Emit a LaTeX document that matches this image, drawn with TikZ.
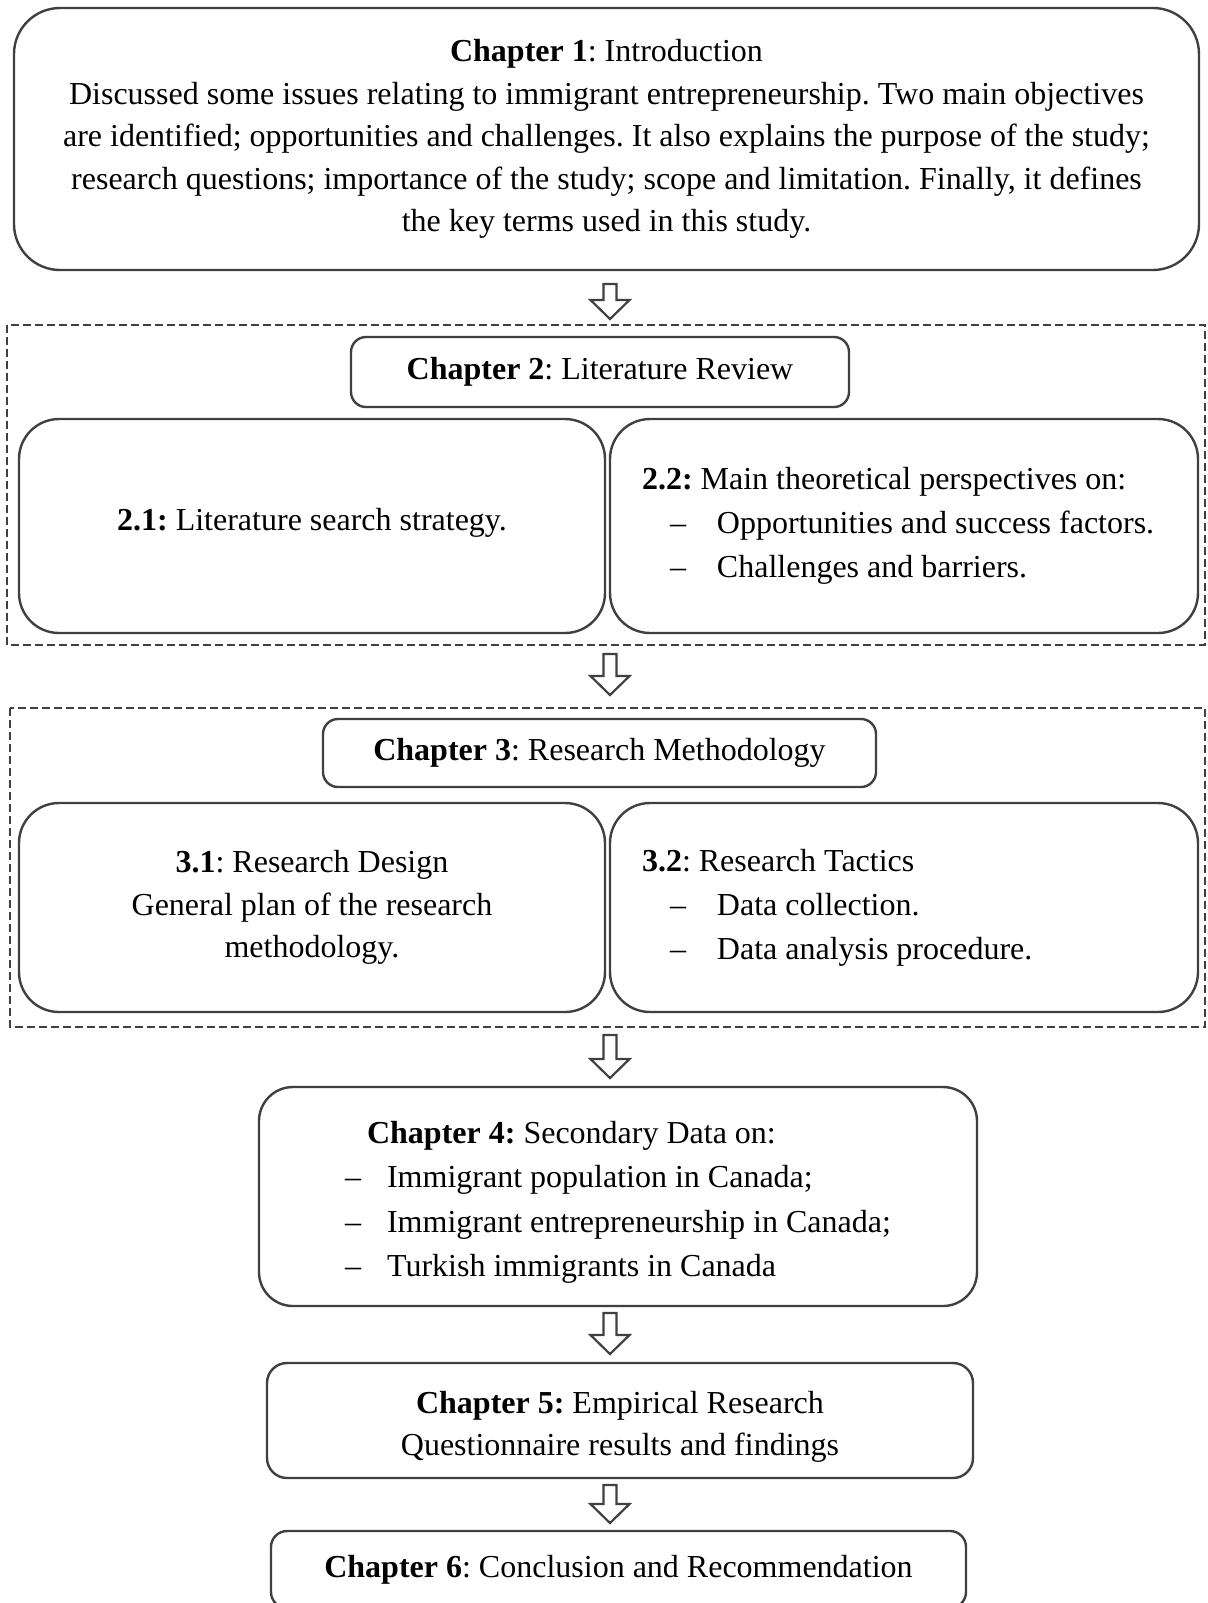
\documentclass[tikz,border=0pt]{standalone}
\usepackage{fontspec}
\setmainfont{Liberation Serif}
\usetikzlibrary{calc}
\definecolor{ln}{HTML}{404040}
\newcommand\diagfont{\fontsize{16}{21.25}\selectfont\frenchspacing}
\newcommand\listfont[1]{\fontsize{16}{#1}\selectfont\frenchspacing}
\newcommand\normsp{\spaceskip=0pt\xspaceskip=0pt\relax}
\newcommand\itm[1]{\hspace*{14pt}\makebox[23.5pt][l]{\textendash}#1}
\newcommand\itmb[1]{\makebox[21pt][l]{\textendash}#1}
\tikzset{
  box/.style={draw=ln, line width=1.2pt, rounded corners=#1, align=center,
    inner sep=0pt, font=\diagfont, text=black},
  dashbox/.style={draw=ln, line width=1pt, dash pattern=on 4pt off 2pt},
  blk/.style={draw=ln, line width=1.1pt, fill=white, line join=miter},
}
\newcommand\blockarrow[4]{% name, x, ytop, length
  \coordinate (#1) at (#2,#3);
  \draw[blk] (#1) ++(-6.5,0) -- ++(13,0) -- ++(0,#4-19) -- ++(13,0)
    -- ++(-19.5,19) -- ++(-19.5,-19) -- ++(13,0) -- cycle;}
\begin{document}
\begin{tikzpicture}[x=0.5pt,y=-0.5pt]
\useasboundingbox (0,0) rectangle (1207,1603);
\begin{scope}
\clip (0,0) rectangle (1207,1603);
% dashed groups
\draw[dashbox] (7,325) rectangle (1205,645);
\draw[dashbox] (10,708) rectangle (1205,1027);
% chapter 1
\node[box=23pt, minimum width=592.5pt, minimum height=131pt] (ch1) at (606.5,139)
 {\textbf{Chapter 1}: Introduction\\
  Discussed some issues relating to immigrant entrepreneurship. Two main objectives\\
  are identified; opportunities and challenges. It also explains the purpose of the study;\\
  research questions; importance of the study; scope and limitation. Finally, it defines\\
  the key terms used in this study.};
% chapter 2
\node[box=7.5pt, minimum width=249pt, minimum height=35pt] (ch2) at (600,372)
 {\textbf{Chapter 2}: Literature Review};
\node[box=20pt, minimum width=293pt, minimum height=107pt, text depth=7pt] (b21) at (312,526)
 {\textbf{2.1:} Literature search strategy.};
\node[box=20pt, minimum height=107pt, text width=262pt, inner xsep=16pt, align=left,
      font=\listfont{22pt}] (b22) at (904,526)
 {\normsp\textbf{2.2:} Main theoretical perspectives on:\\
  \itm{Opportunities and success factors.}\\
  \itm{Challenges and barriers.}};
% chapter 3
\node[box=7.5pt, minimum width=276.5pt, minimum height=34pt] (ch3) at (599.5,753)
 {\textbf{Chapter 3}: Research Methodology};
\node[box=20pt, minimum width=293pt, minimum height=104.5pt] (b31) at (312,907.5)
 {\textbf{3.1}: Research Design\\General plan of the research\\methodology.};
\node[box=20pt, minimum height=104.5pt, text width=262pt, inner xsep=16pt, align=left,
      font=\listfont{22pt}] (b32) at (904,907.5)
 {\normsp\textbf{3.2}: Research Tactics\\
  \itm{Data collection.}\\
  \itm{Data analysis procedure.}};
% chapter 4
\node[box=17pt, minimum width=359pt, minimum height=109.5pt, align=left,
      font=\listfont{22.2pt}] (ch4) at (618,1196.5)
 {\normsp\rule{0pt}{16.8pt}\hspace*{11pt}\textbf{Chapter 4:} Secondary Data on:\\
  \itmb{Immigrant population in Canada;}\\
  \itmb{Immigrant entrepreneurship in Canada;}\\
  \itmb{Turkish immigrants in Canada}};
% chapter 5
\node[box=10pt, minimum width=353pt, minimum height=57.5pt] (ch5) at (620,1420.5)
 {\rule{0pt}{17.6pt}\textbf{Chapter 5:} Empirical Research\\Questionnaire results and findings};
% chapter 6
\node[box=8pt, minimum width=347.5pt, minimum height=38.5pt] (ch6) at (618.5,1569.5)
 {\textbf{Chapter 6}: Conclusion and Recommendation};
% arrows
\blockarrow{a1}{610}{284}{35}
\blockarrow{a2}{610}{654}{41}
\blockarrow{a3}{610}{1035}{43}
\blockarrow{a4}{610}{1313}{41}
\blockarrow{a5}{610}{1485}{38}
\end{scope}
\end{tikzpicture}
\end{document}
